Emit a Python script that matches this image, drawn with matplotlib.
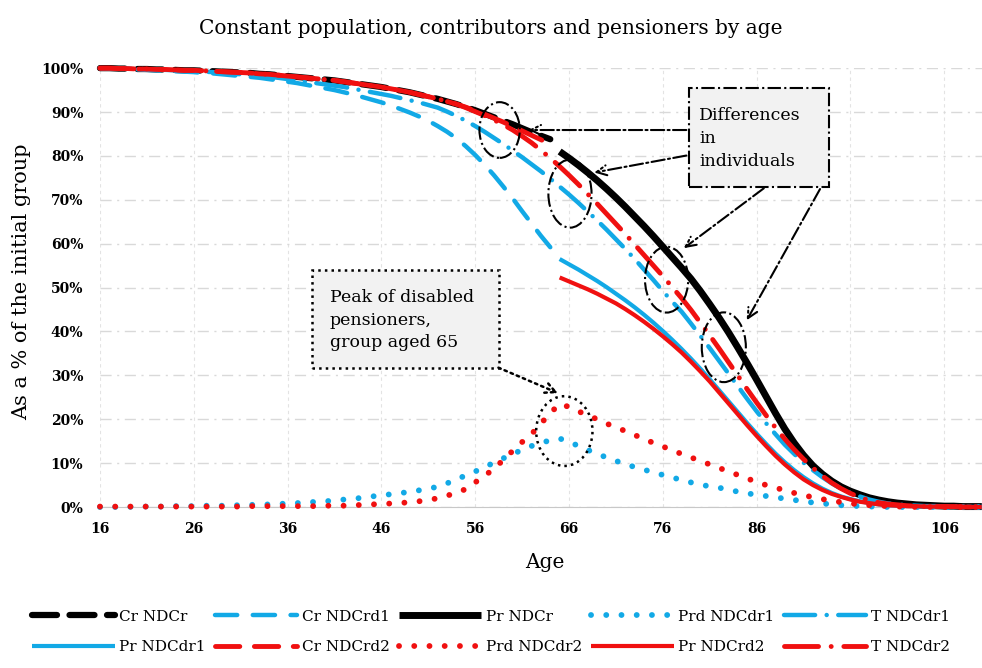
import numpy as np
import matplotlib
matplotlib.use('Agg')
import matplotlib.pyplot as plt
from matplotlib.patches import Rectangle, Ellipse

plt.rcParams['font.family'] = 'DejaVu Serif'

# ages
ages_c = list(range(16, 65))    # contributors
ages_p = list(range(65, 111))   # pensioners
ages_all = list(range(16, 111))

# contributors (% of initial group)
cr_ndcr = [100.0, 100.0, 99.9, 99.9, 99.8, 99.8, 99.7, 99.7, 99.6, 99.5,
           99.5, 99.4, 99.3, 99.2, 99.1, 99.0, 98.9, 98.7, 98.6, 98.4,
           98.2, 98.0, 97.8, 97.6, 97.4, 97.2, 96.9, 96.6, 96.3, 96.0,
           95.7, 95.3, 94.9, 94.5, 94.0, 93.5, 93.0, 92.4, 91.8, 91.1,
           90.4, 89.6, 88.8, 88.0, 87.2, 86.3, 85.4, 84.6, 83.8]
cr_ndcrd1 = [100.0, 99.9, 99.9, 99.8, 99.7, 99.6, 99.5, 99.4, 99.3, 99.2,
             99.1, 98.9, 98.8, 98.6, 98.4, 98.2, 98.0, 97.8, 97.5, 97.2,
             96.9, 96.6, 96.2, 95.8, 95.4, 95.0, 94.5, 94.0, 93.4, 92.8,
             92.2, 91.5, 90.7, 89.9, 89.0, 88.0, 86.8, 85.5, 84.0, 82.2,
             80.2, 78.0, 75.6, 73.0, 70.3, 67.4, 64.6, 61.8, 59.2]
cr_ndcrd2 = [100.0, 100.0, 99.9, 99.9, 99.8, 99.8, 99.7, 99.7, 99.6, 99.5,
             99.5, 99.4, 99.3, 99.2, 99.1, 99.0, 98.9, 98.7, 98.6, 98.4,
             98.2, 98.0, 97.8, 97.6, 97.4, 97.2, 96.9, 96.6, 96.3, 96.0,
             95.7, 95.3, 94.9, 94.5, 94.0, 93.5, 93.0, 92.4, 91.8, 91.1,
             90.3, 89.5, 88.6, 87.7, 86.7, 85.7, 84.7, 83.7, 82.6]

# pensioners
pr_ndcr = [81.0, 79.5, 77.9, 76.2, 74.4, 72.5, 70.5, 68.4, 66.2, 64.0,
           61.7, 59.3, 56.9, 54.5, 52.0, 49.2, 46.2, 43.1, 39.8, 36.3,
           32.7, 29.0, 25.2, 21.4, 17.8, 14.6, 11.8, 9.4, 7.5, 5.9,
           4.6, 3.6, 2.8, 2.1, 1.6, 1.2, 0.9, 0.7, 0.5, 0.4,
           0.3, 0.2, 0.2, 0.1, 0.1, 0.1]
pr_ndcdr1 = [56.5, 55.3, 54.1, 52.8, 51.5, 50.1, 48.6, 47.1, 45.5, 43.8,
             42.0, 40.1, 38.1, 36.0, 33.8, 31.5, 29.1, 26.6, 24.1, 21.6,
             19.1, 16.7, 14.4, 12.2, 10.2, 8.4, 6.8, 5.4, 4.2, 3.2,
             2.4, 1.8, 1.3, 0.9, 0.6, 0.4, 0.3, 0.2, 0.2, 0.1,
             0.1, 0.1, 0.0, 0.0, 0.0, 0.0]
pr_ndcrd2 = [52.3, 51.4, 50.5, 49.6, 48.6, 47.5, 46.4, 45.1, 43.7, 42.2,
             40.6, 38.9, 37.1, 35.2, 33.1, 30.9, 28.6, 26.1, 23.6, 21.1,
             18.6, 16.2, 13.9, 11.7, 9.7, 7.9, 6.3, 5.0, 3.9, 3.0,
             2.3, 1.7, 1.2, 0.9, 0.6, 0.4, 0.3, 0.2, 0.2, 0.1,
             0.1, 0.1, 0.1, 0.0, 0.0, 0.0]

# totals
t_ndcdr1 = [100.0, 100.0, 99.9, 99.9, 99.8, 99.8, 99.7, 99.6, 99.5, 99.4,
            99.3, 99.2, 99.1, 98.9, 98.8, 98.6, 98.4, 98.2, 98.0, 97.8,
            97.5, 97.2, 96.9, 96.6, 96.3, 96.0, 95.7, 95.3, 94.9, 94.5,
            94.1, 93.7, 93.2, 92.7, 92.2, 91.6, 91.0, 90.1, 89.1, 88.0,
            86.8, 85.5, 84.1, 82.7, 81.2, 79.7, 78.1, 76.5, 74.8, 73.0,
            71.2, 69.3, 67.3, 65.3, 63.2, 61.0, 58.8, 56.5, 54.1, 51.7,
            49.2, 46.8, 44.5, 41.8, 39.0, 36.2, 33.3, 30.4, 27.5, 24.6,
            21.8, 19.1, 16.6, 14.2, 12.1, 10.1, 8.4, 6.8, 5.4, 4.2,
            3.2, 2.4, 1.7, 1.2, 0.8, 0.6, 0.4, 0.3, 0.2, 0.2,
            0.1, 0.1, 0.1, 0.0, 0.0]
t_ndcdr2 = [100.0, 100.0, 99.9, 99.9, 99.8, 99.8, 99.7, 99.7, 99.6, 99.5,
            99.5, 99.4, 99.3, 99.2, 99.1, 99.0, 98.9, 98.7, 98.6, 98.4,
            98.2, 98.0, 97.8, 97.6, 97.4, 97.2, 96.9, 96.6, 96.3, 96.0,
            95.7, 95.3, 94.9, 94.5, 94.0, 93.5, 93.0, 92.4, 91.8, 91.0,
            90.1, 89.2, 88.2, 87.1, 85.9, 84.5, 83.0, 81.3, 79.5, 77.6,
            75.6, 73.5, 71.3, 69.1, 66.8, 64.5, 62.2, 59.8, 57.4, 55.0,
            52.6, 50.1, 47.6, 44.9, 42.0, 39.1, 36.1, 33.0, 29.9, 26.8,
            23.8, 20.9, 18.1, 15.5, 13.1, 10.9, 8.9, 7.1, 5.5, 4.2,
            3.1, 2.2, 1.5, 1.0, 0.7, 0.5, 0.3, 0.2, 0.1, 0.1,
            0.1, 0.1, 0.0, 0.0, 0.0]

# disabled pensioners
prd_ndcdr1 = [0.0, 0.0, 0.0, 0.0, 0.1, 0.1, 0.1, 0.1, 0.2, 0.2,
              0.2, 0.3, 0.3, 0.3, 0.4, 0.4, 0.5, 0.5, 0.6, 0.7,
              0.8, 0.9, 1.0, 1.2, 1.3, 1.5, 1.7, 1.9, 2.1, 2.4,
              2.7, 2.9, 3.2, 3.4, 3.8, 4.2, 4.6, 5.4, 6.3, 7.2,
              8.1, 9.1, 10.1, 11.1, 12.1, 13.0, 13.9, 14.6, 15.2, 15.6,
              14.9, 13.9, 13.0, 12.1, 11.3, 10.5, 9.8, 9.1, 8.5, 7.9,
              7.3, 6.7, 6.2, 5.6, 5.1, 4.7, 4.4, 3.9, 3.5, 3.1,
              2.8, 2.5, 2.2, 1.9, 1.6, 1.3, 1.0, 0.8, 0.6, 0.4,
              0.3, 0.2, 0.1, 0.1, 0.0, 0.0, 0.0, 0.0, 0.0, 0.0,
              0.0, 0.0, 0.0, 0.0, 0.0]
prd_ndcdr2 = [0.1, 0.1, 0.1, 0.1, 0.1, 0.1, 0.1, 0.1, 0.1, 0.1,
              0.1, 0.1, 0.1, 0.1, 0.1, 0.1, 0.2, 0.2, 0.2, 0.2,
              0.2, 0.2, 0.2, 0.2, 0.3, 0.3, 0.3, 0.4, 0.5, 0.6,
              0.7, 0.8, 0.9, 1.1, 1.3, 1.6, 2.0, 2.6, 3.2, 4.1,
              5.6, 7.2, 8.6, 10.8, 12.8, 14.8, 16.6, 19.0, 21.4, 23.5,
              22.8, 21.8, 20.9, 20.0, 19.0, 18.2, 17.3, 16.4, 15.5, 14.6,
              13.8, 12.9, 12.1, 11.3, 10.5, 9.7, 8.9, 8.1, 7.3, 6.5,
              5.7, 5.0, 4.4, 3.8, 3.2, 2.7, 2.2, 1.8, 1.4, 1.1,
              0.8, 0.6, 0.4, 0.3, 0.2, 0.1, 0.1, 0.0, 0.0, 0.0,
              0.0, 0.0, 0.0, 0.0, 0.0]

blue = '#12A9E6'
red = '#F01010'

fig = plt.figure(figsize=(9.82, 6.68), dpi=100)
ax = fig.add_axes([0.1018, 0.241, 0.898, 0.657])

series = [
    ('Cr NDCr', ages_c, cr_ndcr, dict(color='black', lw=4.5, dashes=(4, 2))),
    ('Cr NDCrd1', ages_c, cr_ndcrd1, dict(color=blue, lw=3.2, dashes=(5, 3.5))),
    ('Pr NDCr', ages_p, pr_ndcr, dict(color='black', lw=5, ls='-')),
    ('Prd NDCdr1', ages_all, prd_ndcdr1, dict(color=blue, lw=4.2, dashes=(0.01, 2.6))),
    ('T NDCdr1', ages_all, t_ndcdr1, dict(color=blue, lw=3.2, dashes=(7, 2.6, 0.01, 2.6))),
    ('Pr NDCdr1', ages_p, pr_ndcdr1, dict(color=blue, lw=3, ls='-')),
    ('Cr NDCrd2', ages_c, cr_ndcrd2, dict(color=red, lw=3.5, dashes=(5, 3))),
    ('Prd NDCdr2', ages_all, prd_ndcdr2, dict(color=red, lw=4.2, dashes=(0.01, 2.6))),
    ('Pr NDCrd2', ages_p, pr_ndcrd2, dict(color=red, lw=3, ls='-')),
    ('T NDCdr2', ages_all, t_ndcdr2, dict(color=red, lw=3.5, dashes=(7, 2.6, 0.01, 2.6))),
]

handles = []
for name, x, y, style in series:
    ln, = ax.plot(x, y, label=name, dash_capstyle='round', solid_capstyle='butt',
                  clip_on=False, zorder=3, **style)
    handles.append(ln)

ax.set_xlim(16, 110)
ax.set_ylim(0, 100)
ax.set_xticks(range(16, 107, 10))
ax.set_yticks(range(0, 101, 10))
ax.set_yticklabels([f'{v}%' for v in range(0, 101, 10)])
ax.tick_params(length=0, labelsize=10)
ax.tick_params(axis='y', pad=12)
ax.tick_params(axis='x', pad=11)
for lab in ax.get_xticklabels() + ax.get_yticklabels():
    lab.set_fontweight('bold')

ax.grid(axis='y', color='#D9D9D9', lw=1, ls=(0, (8, 4, 1.5, 4)))
ax.grid(axis='x', color='#E3E3E3', lw=0.8, ls=(0, (3, 3)))
ax.set_axisbelow(True)
for s in ['top', 'right', 'left']:
    ax.spines[s].set_visible(False)
ax.spines['bottom'].set_color('#C8C8C8')

fig.text(0.5, 1 - 28 / 668, 'Constant population, contributors and pensioners by age',
         ha='center', va='center', fontsize=14.5)
fig.text(545 / 982, 1 - 563 / 668, 'Age', ha='center', va='center', fontsize=14.5)
fig.text(22 / 982, 1 - 282 / 668, 'As a % of the initial group', ha='center', va='center',
         rotation=90, fontsize=15)

# annotation: differences in individuals
ax.add_patch(Rectangle((78.8, 73.0), 14.9, 22.5, facecolor='#F2F2F2', edgecolor='black',
                       lw=1.5, ls='-.', zorder=5, clip_on=False))
ax.text(79.9, 84.0, 'Differences\nin\nindividuals', fontsize=12.5, va='center', ha='left',
        linespacing=1.45, zorder=6)
arrow_dd = dict(arrowstyle='->', ls='-.', lw=1.5, color='black', mutation_scale=18)
for start, end in [((78.8, 85.9), (61.4, 85.9)), ((78.8, 80.2), (68.4, 76.1)),
                   ((87.0, 73.0), (78.0, 58.6)), ((92.9, 73.0), (84.8, 42.0))]:
    ax.annotate('', xy=end, xytext=start, arrowprops=arrow_dd, zorder=6)
for cx, cy, w, h in [(58.6, 85.9, 4.3, 12.7), (66.1, 71.4, 4.6, 15.5),
                     (76.4, 51.8, 4.6, 15.0), (82.5, 36.4, 4.7, 15.9)]:
    ax.add_patch(Ellipse((cx, cy), w, h, fill=False, edgecolor='black', lw=1.5, ls='-.', zorder=6))

# annotation: peak of disabled pensioners
ax.add_patch(Rectangle((38.55, 31.6), 20.0, 22.5, facecolor='#F2F2F2', edgecolor='black',
                       lw=1.8, ls=':', zorder=5))
ax.text(40.5, 42.6, 'Peak of disabled\npensioners,\ngroup aged 65', fontsize=12.5,
        va='center', ha='left', linespacing=1.4, zorder=6)
ax.annotate('', xy=(65.1, 25.7), xytext=(58.2, 32.0),
            arrowprops=dict(arrowstyle='->', ls=':', lw=1.8, color='black', mutation_scale=18),
            zorder=6)
ax.add_patch(Ellipse((65.5, 17.3), 6.0, 15.9, fill=False, edgecolor='black', lw=1.8, ls=':', zorder=6))

# legend, filled row by row
order = [0, 5, 1, 6, 2, 7, 3, 8, 4, 9]
fig.legend([handles[i] for i in order], [series[i][0] for i in order],
           loc='center', bbox_to_anchor=(0.5, 1 - 632 / 668), ncol=5, frameon=False,
           fontsize=11, handlelength=5.4, handletextpad=0.3, columnspacing=0.6,
           labelspacing=1.1)

fig.savefig('out.png', dpi=100)
